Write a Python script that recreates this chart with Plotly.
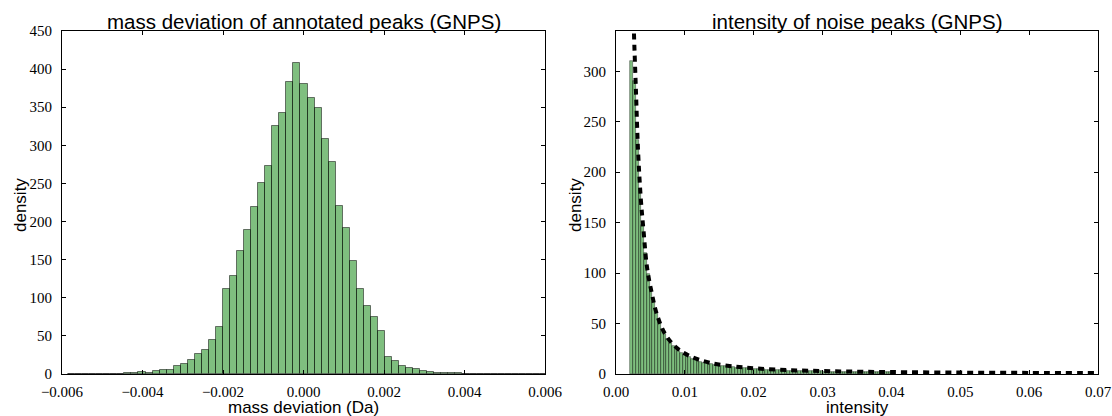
import numpy as np
import plotly.graph_objects as go

# ---------------- data ----------------
# Left: histogram of mass deviations (density), bins of width 0.000175 Da
mass_bin_width = 0.000175
mass_bin_left_edges = np.round(-0.002 + mass_bin_width * np.arange(-22, 46), 7)
mass_density = [
    0.3, 0.5, 0.3, 0.2, 0.5, 0.6, 0.3, 0.5, 0.8, 1.5,
    2.6, 1.7, 4.3, 4.8, 5.6, 10, 13, 18, 26, 31,
    45, 62, 112, 129, 161, 189, 219, 251, 273, 326,
    342, 383, 408, 381, 362, 349, 308, 278, 221, 192,
    148, 112, 89, 75, 57, 22, 17, 11, 8, 6.6,
    4.4, 2.2, 1.2, 1.2, 1.5, 0.8, 0.5, 0.3, 0.4, 0.2,
    0.3, 0.2, 0.1, 0.2, 0.1, 0.2, 0.1, 0.1,
]

# Right: histogram of noise peak intensities (density), bins of width 0.0004
int_bin_width = 0.0004
int_density = [
    310, 290, 232, 182, 148, 120, 99, 83, 71, 60,
    52, 45, 39.5, 35, 31, 28, 25.5, 23, 21, 19.2,
    17.8, 16.4, 15.1, 14.0, 13.0, 12.2, 11.4, 10.7, 10.0, 9.5,
    9.0, 8.6, 8.2, 7.8, 7.5, 7.2, 6.9, 6.6, 6.4, 6.1,
    5.9, 5.7, 5.5, 5.3, 5.1, 4.9, 4.8, 4.6, 4.5, 4.3,
    4.2, 4.1, 3.9, 3.8, 3.7, 3.6, 3.5, 3.4, 3.3, 3.2,
    3.1, 3.0, 3.0, 2.9, 2.8, 2.7, 2.7, 2.6, 2.5, 2.5,
    2.4, 2.4, 2.3, 2.3, 2.2, 2.2, 2.1, 2.1, 2.0, 2.0,
    2.0, 1.9, 1.9, 1.9, 1.8, 1.8, 1.8, 1.7, 1.7, 1.7,
    1.6, 1.6, 1.6, 1.5, 1.5,
]
int_bin_left_edges = np.round(0.0021 + int_bin_width * np.arange(len(int_density)), 7)

# Right: fitted density curve
fit_x = [0.0025, 0.0026, 0.0029, 0.0032, 0.0036, 0.004, 0.0045, 0.0052, 0.0059,
         0.0071, 0.0088, 0.0108, 0.0137, 0.0175, 0.0204, 0.025, 0.03, 0.035,
         0.04, 0.05, 0.06, 0.07]
fit_y = [370, 340, 280, 222, 174, 142, 106, 80, 60,
         40, 26, 17.5, 11, 7.2, 5.5, 3.9, 2.9, 2.3,
         1.9, 1.4, 1.1, 0.9]

left_title = "mass deviation of annotated peaks (GNPS)"
right_title = "intensity of noise peaks (GNPS)"
left_xlabel = "mass deviation (Da)"
right_xlabel = "intensity"
ylabel = "density"
left_xticks = [-0.006, -0.004, -0.002, 0.0, 0.002, 0.004, 0.006]
left_yticks = list(range(0, 451, 50))
right_xticks = [0.0, 0.01, 0.02, 0.03, 0.04, 0.05, 0.06, 0.07]
right_yticks = list(range(0, 301, 50))

# ---------------- figure ----------------
W, H = 1112, 416
L1, R1 = 62, 545
L2, R2 = 616, 1098
TOP, BOT = 31, 374

def px(x):
    return x / W

def py(y):
    return 1 - y / H

bar_fill = "rgba(0,128,0,0.5)"
bar_edge = "rgba(0,0,0,0.5)"

fig = go.Figure()
fig.add_trace(go.Bar(
    x=mass_bin_left_edges + mass_bin_width / 2, y=mass_density,
    width=mass_bin_width, marker=dict(color=bar_fill, line=dict(color=bar_edge, width=1)),
    xaxis="x", yaxis="y", showlegend=False,
))
fig.add_trace(go.Bar(
    x=int_bin_left_edges + int_bin_width / 2, y=int_density,
    width=int_bin_width, marker=dict(color=bar_fill, line=dict(color=bar_edge, width=0.7)),
    xaxis="x2", yaxis="y2", showlegend=False,
))
fig.add_trace(go.Scatter(
    x=fit_x, y=fit_y, mode="lines", line=dict(color="black", width=4, dash="6px,5px", shape="spline"),
    xaxis="x2", yaxis="y2", showlegend=False,
))

tickfont = dict(family="Liberation Serif", size=15, color="black")
axis_common = dict(
    showline=True, linecolor="black", linewidth=1, mirror="ticks",
    ticks="inside", ticklen=4, tickwidth=1, tickcolor="black",
    showgrid=False, zeroline=False, tickfont=tickfont, automargin=False,
)

fig.update_layout(
    template="none",
    width=W, height=H, autosize=False,
    margin=dict(l=0, r=0, t=0, b=0, pad=0),
    paper_bgcolor="white", plot_bgcolor="white",
    bargap=0, barmode="overlay",
    xaxis=dict(domain=[px(L1), px(R1)], range=[-0.006, 0.006], anchor="y",
               tickvals=left_xticks, tickformat=".3f", ticklabelstandoff=4, **axis_common),
    yaxis=dict(domain=[py(BOT), py(TOP)], range=[0, 450], anchor="x",
               tickvals=left_yticks, ticklabelstandoff=6, **axis_common),
    xaxis2=dict(domain=[px(L2), px(R2)], range=[0, 0.07], anchor="y2",
                tickvals=right_xticks, tickformat=".2f", ticklabelstandoff=4, **axis_common),
    yaxis2=dict(domain=[py(BOT), py(TOP)], range=[0, 340], anchor="x2",
                tickvals=right_yticks, ticklabelstandoff=6, **axis_common),
)

title_font = dict(family="Liberation Sans", size=20.5, color="black")
label_font = dict(family="Liberation Sans", size=17, color="black")
ann = [
    dict(text=left_title, x=px((L1 + R1) / 2), y=py(21), font=title_font),
    dict(text=right_title, x=px((L2 + R2) / 2), y=py(21), font=title_font),
    dict(text=left_xlabel, x=px((L1 + R1) / 2), y=py(407), font=label_font),
    dict(text=right_xlabel, x=px((L2 + R2) / 2), y=py(407), font=label_font),
    dict(text=ylabel, x=px(20), y=py(205), font=label_font, textangle=-90),
    dict(text=ylabel, x=px(575), y=py(205), font=label_font, textangle=-90),
]
for a in ann:
    a.update(xref="paper", yref="paper", showarrow=False, xanchor="center", yanchor="middle")
fig.update_layout(annotations=ann)

fig.write_html(
    "out.html",
    config={"displayModeBar": False},
    post_script="document.body.style.margin='0';document.body.style.overflow='hidden';",
)
